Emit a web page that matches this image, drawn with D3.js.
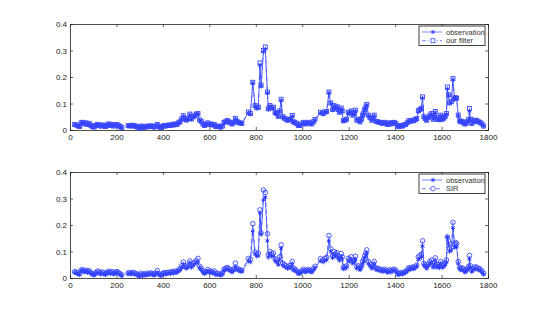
<!DOCTYPE html>
<html>
<head>
<meta charset="utf-8">
<script src="https://cdn.jsdelivr.net/npm/d3@7"></script>
<style>
  body { margin: 0; background: #fff; }
  .tick text { font-family: "Liberation Sans", Arial, sans-serif; font-size: 8px; fill: #222; }
  .legend text { font-family: "Liberation Sans", Arial, sans-serif; font-size: 7.5px; fill: #333; }
</style>
</head>
<body>
<div id="chart"></div>
<script>
// time index (null value = gap in the record)
var days = [20,27,34,41,48,55,62,69,76,83,90,97,104,111,118,125,132,139,146,153,160,167,174,181,188,195,202,209,216,223,
  235,
  250,257,264,271,278,285,292,299,306,313,320,327,334,341,348,355,362,369,376,383,390,397,404,411,418,425,432,439,446,453,460,467,474,
  481,488,495,502,509,516,523,530,537,544,551,558,565,572,579,586,593,600,607,614,621,628,635,642,649,656,663,670,677,684,691,698,705,712,719,726,733,740,
  768,777,787,797,804,811,818,823,833,841,850,854,861,868,876,883,890,897,903,909,916,923,930,937,944,950,957,961,968,975,983,990,997,
  1005,1012,1019,1026,1033,1041,1048,1055,1079,1090,1098,1105,1115,1123,1131,1137,1143,1150,1155,1160,1168,1172,1177,1184,1191,1198,
  1205,1211,1218,1224,1229,1235,1242,1249,1255,1260,1265,1269,1274,1278,1285,1292,1300,1305,1310,1318,1325,1332,1340,1347,1354,1361,1368,1375,1382,1389,1396,
  1403,1410,1417,1424,1431,1438,1445,1452,1459,1466,1473,1480,1487,1493,1500,1507,1513,1518,1524,1530,1536,1543,1550,1557,1564,1569,1573,1579,1586,1591,1596,
  1600,1604,1610,1616,1621,1625,1630,1634,1642,1649,1656,1660,1665,1672,1678,1682,1688,1694,1700,1705,1711,1717,1720,1725,1730,1738,1745,1752,1759,1766,1774,1781];

var observation = [0.020,0.018,0.015,0.012,0.026,0.028,0.022,0.026,0.020,0.024,0.016,0.012,0.010,0.016,0.020,0.018,0.014,0.018,0.015,0.012,0.018,0.022,0.016,0.020,0.014,0.018,0.020,0.016,0.012,0.008,
  null,
  0.015,0.016,0.014,0.017,0.015,0.012,0.010,0.006,0.014,0.008,0.012,0.010,0.014,0.012,0.015,0.012,0.010,0.014,0.020,0.012,0.008,0.012,0.016,0.014,0.016,0.018,0.016,0.020,0.018,0.022,0.020,0.026,0.030,
  0.040,0.052,0.040,0.036,0.042,0.058,0.040,0.048,0.052,0.058,0.060,0.036,0.032,0.022,0.016,0.020,0.026,0.020,0.022,0.018,0.020,0.012,0.014,0.012,0.010,0.014,0.028,0.030,0.034,0.030,0.026,0.022,0.028,0.042,0.032,0.028,0.025,0.024,
  0.065,0.060,0.178,0.090,0.082,0.084,0.245,0.165,0.295,0.305,0.140,0.078,0.090,0.082,0.084,0.064,0.060,0.050,0.070,0.112,0.048,0.044,0.040,0.036,0.038,0.040,0.052,0.030,0.028,0.024,0.016,0.016,0.022,
  0.028,0.022,0.024,0.028,0.024,0.022,0.030,0.038,0.065,0.060,0.066,0.068,0.140,0.100,0.076,0.090,0.082,0.086,0.075,0.066,0.080,0.070,0.034,0.036,0.040,0.065,
  0.062,0.070,0.055,0.060,0.072,0.036,0.040,0.030,0.040,0.054,0.062,0.076,0.084,0.095,0.054,0.045,0.036,0.042,0.054,0.032,0.030,0.028,0.026,0.024,0.028,0.024,0.020,0.026,0.022,0.026,0.028,
  0.024,0.014,0.012,0.016,0.014,0.018,0.020,0.026,0.034,0.032,0.036,0.034,0.038,0.042,0.070,0.074,0.080,0.120,0.048,0.042,0.036,0.046,0.054,0.060,0.040,0.050,0.066,0.040,0.046,0.038,0.054,
  0.046,0.040,0.044,0.050,0.060,0.155,0.130,0.100,0.104,0.190,0.115,0.120,0.118,0.054,0.034,0.030,0.032,0.028,0.022,0.024,0.030,0.038,0.072,0.040,0.024,0.030,0.036,0.034,0.030,0.028,0.022,0.014];

var ourFilter = [0.021,0.019,0.016,0.013,0.027,0.029,0.023,0.027,0.021,0.025,0.017,0.013,0.011,0.017,0.021,0.019,0.015,0.019,0.016,0.013,0.019,0.023,0.017,0.021,0.015,0.019,0.021,0.017,0.013,0.009,
  null,
  0.016,0.017,0.015,0.018,0.016,0.013,0.011,0.007,0.015,0.009,0.013,0.011,0.015,0.013,0.016,0.013,0.011,0.015,0.021,0.013,0.009,0.013,0.017,0.015,0.017,0.019,0.017,0.021,0.019,0.023,0.021,0.027,0.031,
  0.042,0.054,0.042,0.038,0.044,0.060,0.042,0.050,0.054,0.060,0.062,0.038,0.033,0.023,0.017,0.021,0.027,0.021,0.023,0.019,0.021,0.013,0.015,0.013,0.011,0.015,0.029,0.031,0.036,0.031,0.027,0.023,0.029,0.044,0.033,0.029,0.026,0.025,
  0.068,0.062,0.180,0.092,0.084,0.086,0.253,0.169,0.300,0.313,0.143,0.080,0.092,0.084,0.086,0.066,0.062,0.052,0.072,0.116,0.050,0.045,0.041,0.037,0.039,0.041,0.055,0.031,0.029,0.025,0.017,0.017,0.023,
  0.029,0.023,0.025,0.029,0.025,0.023,0.031,0.040,0.067,0.062,0.068,0.070,0.143,0.102,0.077,0.092,0.084,0.088,0.077,0.067,0.083,0.072,0.035,0.037,0.041,0.067,
  0.064,0.072,0.056,0.062,0.075,0.037,0.041,0.031,0.041,0.056,0.064,0.078,0.086,0.097,0.056,0.046,0.037,0.043,0.056,0.033,0.031,0.029,0.027,0.025,0.029,0.025,0.021,0.027,0.023,0.027,0.029,
  0.025,0.015,0.013,0.017,0.015,0.019,0.021,0.027,0.035,0.033,0.037,0.035,0.039,0.043,0.073,0.077,0.082,0.125,0.050,0.043,0.037,0.047,0.056,0.062,0.041,0.052,0.070,0.041,0.047,0.039,0.056,
  0.047,0.041,0.045,0.052,0.062,0.162,0.133,0.103,0.107,0.194,0.118,0.122,0.120,0.056,0.035,0.031,0.033,0.029,0.023,0.025,0.031,0.040,0.081,0.041,0.025,0.031,0.037,0.035,0.031,0.029,0.023,0.015];

var sir = [0.024,0.022,0.019,0.016,0.030,0.031,0.026,0.029,0.024,0.027,0.020,0.016,0.014,0.020,0.026,0.024,0.019,0.022,0.019,0.016,0.022,0.025,0.020,0.024,0.018,0.022,0.024,0.020,0.016,0.012,
  null,
  0.019,0.020,0.018,0.021,0.019,0.016,0.014,0.010,0.018,0.012,0.016,0.014,0.018,0.016,0.019,0.016,0.014,0.018,0.028,0.016,0.012,0.016,0.020,0.018,0.020,0.022,0.020,0.024,0.022,0.026,0.024,0.030,0.035,
  0.046,0.060,0.046,0.042,0.048,0.064,0.046,0.054,0.060,0.065,0.074,0.044,0.037,0.027,0.020,0.024,0.032,0.024,0.026,0.022,0.026,0.016,0.018,0.016,0.014,0.018,0.033,0.036,0.040,0.035,0.031,0.027,0.034,0.056,0.037,0.033,0.030,0.029,
  0.074,0.070,0.205,0.098,0.090,0.094,0.257,0.170,0.332,0.323,0.167,0.088,0.100,0.092,0.094,0.072,0.068,0.058,0.080,0.125,0.056,0.050,0.046,0.042,0.046,0.048,0.062,0.036,0.034,0.028,0.020,0.020,0.027,
  0.033,0.027,0.028,0.033,0.028,0.026,0.035,0.044,0.073,0.068,0.074,0.078,0.160,0.110,0.083,0.100,0.092,0.096,0.084,0.074,0.092,0.080,0.040,0.042,0.046,0.074,
  0.070,0.080,0.062,0.068,0.082,0.042,0.046,0.036,0.046,0.062,0.070,0.084,0.094,0.106,0.062,0.052,0.042,0.048,0.062,0.038,0.036,0.034,0.031,0.029,0.033,0.029,0.025,0.031,0.027,0.031,0.033,
  0.029,0.019,0.016,0.020,0.018,0.022,0.024,0.030,0.039,0.037,0.041,0.039,0.044,0.048,0.080,0.084,0.090,0.140,0.055,0.048,0.042,0.052,0.062,0.068,0.046,0.058,0.076,0.046,0.052,0.044,0.062,
  0.052,0.046,0.050,0.058,0.068,0.155,0.140,0.112,0.116,0.210,0.128,0.134,0.130,0.062,0.040,0.036,0.038,0.034,0.027,0.029,0.036,0.044,0.085,0.046,0.029,0.036,0.042,0.040,0.036,0.034,0.027,0.018];

var xTicks = [0,200,400,600,800,1000,1200,1400,1600,1800],
    yTicks = [0,0.1,0.2,0.3,0.4];

var width = 539, height = 313,
    margin = { left: 70, right: 51 },
    panels = [
      { top: 24, bottom: 130, est: ourFilter, name: "our filter", marker: "square", dash: "4,2,1,2" },
      { top: 172, bottom: 278, est: sir, name: "SIR", marker: "circle", dash: "4,3" }
    ],
    blue = "#1f30ff",
    markBlue = "#3a48ff";

var svg = d3.select("#chart").append("svg")
    .attr("width", width)
    .attr("height", height);

var x = d3.scaleLinear()
    .domain([0, 1800])
    .range([margin.left, width - margin.right]);

var star = d3.symbol().type(d3.symbolAsterisk).size(14);

panels.forEach(function(p) {
    var y = d3.scaleLinear()
        .domain([0, 0.4])
        .range([p.bottom, p.top]);

    var g = svg.append("g");

    // box + inward ticks, matlab style
    g.append("g")
        .attr("transform", "translate(0," + p.bottom + ")")
        .call(d3.axisBottom(x).tickValues(xTicks).tickSize(-3).tickPadding(4).tickFormat(d3.format("d")));
    g.append("g")
        .attr("transform", "translate(0," + p.top + ")")
        .call(d3.axisTop(x).tickValues(xTicks).tickSize(-3).tickFormat(""));
    g.append("g")
        .attr("transform", "translate(" + margin.left + ",0)")
        .call(d3.axisLeft(y).tickValues(yTicks).tickSize(-3).tickPadding(3).tickFormat(function(d) { return d === 0 ? "0" : d3.format(".1f")(d); }));
    g.append("g")
        .attr("transform", "translate(" + (width - margin.right) + ",0)")
        .call(d3.axisRight(y).tickValues(yTicks).tickSize(-3).tickFormat(""));
    g.selectAll(".domain").attr("stroke", "#222").attr("stroke-width", 0.8);
    g.selectAll(".tick line").attr("stroke", "#222").attr("stroke-width", 0.7);

    var obsPts = days.map(function(d, i) { return { x: d, v: observation[i] }; });
    var estPts = days.map(function(d, i) { return { x: d, v: p.est[i] }; });

    var line = d3.line()
        .defined(function(d) { return d.v != null; })
        .x(function(d) { return x(d.x); })
        .y(function(d) { return y(d.v); });

    g.append("path")
        .datum(obsPts)
        .attr("d", line)
        .attr("fill", "none")
        .attr("stroke", blue)
        .attr("stroke-width", 0.7);

    g.append("path")
        .datum(estPts)
        .attr("d", line)
        .attr("fill", "none")
        .attr("stroke", blue)
        .attr("stroke-width", 0.6)
        .attr("stroke-dasharray", p.dash);

    g.selectAll(".star")
        .data(obsPts.filter(function(d) { return d.v != null; }))
        .enter().append("path")
        .attr("class", "star")
        .attr("d", star)
        .attr("transform", function(d) { return "translate(" + x(d.x) + "," + y(d.v) + ")"; })
        .attr("fill", "none")
        .attr("stroke", blue)
        .attr("stroke-width", 0.9);

    var estValid = estPts.filter(function(d) { return d.v != null; });
    if (p.marker === "square") {
        g.selectAll(".mk")
            .data(estValid)
            .enter().append("rect")
            .attr("class", "mk")
            .attr("x", function(d) { return x(d.x) - 2; })
            .attr("y", function(d) { return y(d.v) - 2; })
            .attr("width", 4)
            .attr("height", 4)
            .attr("fill", "none")
            .attr("stroke", markBlue)
            .attr("stroke-width", 0.9);
    } else {
        g.selectAll(".mk")
            .data(estValid)
            .enter().append("circle")
            .attr("class", "mk")
            .attr("cx", function(d) { return x(d.x); })
            .attr("cy", function(d) { return y(d.v); })
            .attr("r", 2.3)
            .attr("fill", "none")
            .attr("stroke", markBlue)
            .attr("stroke-width", 0.9);
    }

    // legend
    var lg = g.append("g")
        .attr("class", "legend")
        .attr("transform", "translate(419," + (p.top + 2) + ")");
    lg.append("rect")
        .attr("width", 66)
        .attr("height", 19.5)
        .attr("fill", "#fff")
        .attr("stroke", "#111")
        .attr("stroke-width", 0.8);

    [["observation", null], [p.name, p.dash]].forEach(function(row, i) {
        var ry = 6 + i * 8.7;
        lg.append("line")
            .attr("x1", 3).attr("x2", 23)
            .attr("y1", ry).attr("y2", ry)
            .attr("stroke", blue)
            .attr("stroke-width", 0.6)
            .attr("stroke-dasharray", row[1]);
        if (i === 0) {
            lg.append("path")
                .attr("d", star)
                .attr("transform", "translate(14," + ry + ")")
                .attr("fill", "none")
                .attr("stroke", blue)
                .attr("stroke-width", 0.8);
        } else if (p.marker === "square") {
            lg.append("rect")
                .attr("x", 12).attr("y", ry - 2)
                .attr("width", 4).attr("height", 4)
                .attr("fill", "#fff")
                .attr("stroke", markBlue)
                .attr("stroke-width", 0.8);
        } else {
            lg.append("circle")
                .attr("cx", 14).attr("cy", ry)
                .attr("r", 2.3)
                .attr("fill", "#fff")
                .attr("stroke", markBlue)
                .attr("stroke-width", 0.8);
        }
        lg.append("text")
            .attr("x", 27)
            .attr("y", ry + 2.7)
            .text(row[0]);
    });
});
</script>
</body>
</html>
